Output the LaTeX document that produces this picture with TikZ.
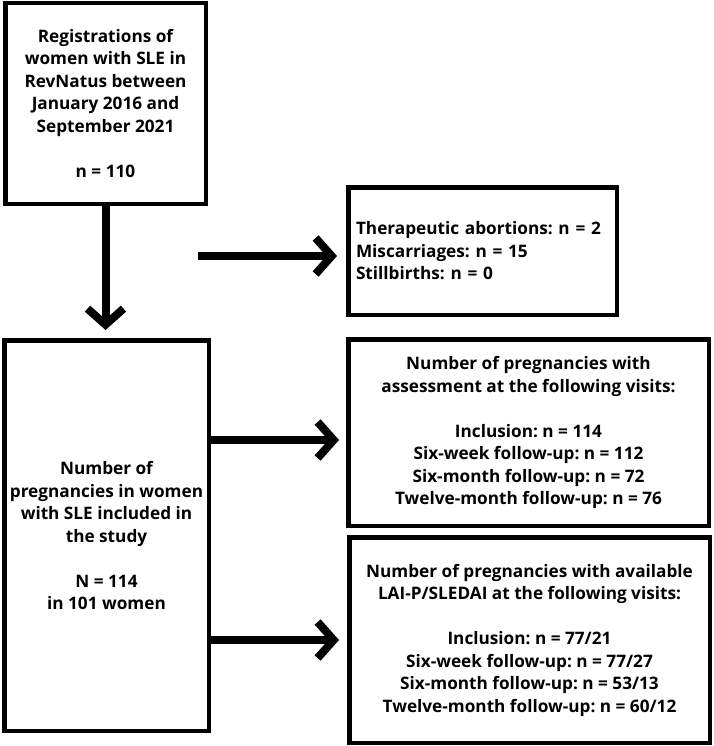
\documentclass[tikz,border=0pt]{standalone}
\usepackage{fontspec}
\setmainfont{Open Sans}
\frenchspacing
\usetikzlibrary{arrows.meta}
\usetikzlibrary{positioning}

\tikzset{
  box/.style={draw, line width=4.5pt, rectangle, inner sep=0pt, anchor=north west,
    align=center, font=\bfseries\fontsize{17.2}{22.5}\selectfont},
  flow/.style={draw, line width=8pt, -{Straight Barb[length=16pt,width=36pt]}},
}

\begin{document}
\begin{tikzpicture}[x=1pt,y=-1pt]

\useasboundingbox (0,0) rectangle (713,746);

\node[box, minimum width=200.5pt, minimum height=200.5pt] (reg) at (3,1)
  {Registrations of\\women with SLE in\\RevNatus between\\January 2016 and\\September 2021\\[22.5pt]n = 110};
\node[box, minimum width=268.5pt, minimum height=127.5pt, text width=253pt, align=left] (loss) at (346,185)
  {Therapeutic abortions: n = 2\\Miscarriages: n = 15\\Stillbirths: n = 0};
\node[box, minimum width=360.5pt, minimum height=186.5pt] (assess) at (346,337)
  {Number of pregnancies with\\assessment at the following visits:\\[22.5pt]Inclusion: n = 114\\Six-week follow-up: n = 112\\Six-month follow-up: n = 72\\Twelve-month follow-up: n = 76};
\node[box, minimum width=204.5pt, minimum height=390.5pt] (incl) at (2,338)
  {Number of\\pregnancies in women\\with SLE included in\\the study\\[22.5pt]N = 114\\in 101 women};
\node[box, minimum width=360.5pt, minimum height=205.5pt] (avail) at (347,535)
  {Number of pregnancies with available\\LAI-P/SLEDAI at the following visits:\\[22.5pt]Inclusion: n = 77/21\\Six-week follow-up: n = 77/27\\Six-month follow-up: n = 53/13\\Twelve-month follow-up: n = 60/12};

\coordinate (lossfrom) at (198,256);
\coordinate (assessy) at (0,440);
\coordinate (availy) at (0,640);

\path[flow] (reg.south) -- ([yshift=8pt]reg.south |- incl.north);
\path[flow] (lossfrom) -- ([xshift=-9pt]loss.west |- lossfrom);
\path[flow] (incl.east |- assessy) -- ([xshift=-7pt]assess.west |- assessy);
\path[flow] (incl.east |- availy) -- ([xshift=-8pt]avail.west |- availy);

\end{tikzpicture}
\end{document}
